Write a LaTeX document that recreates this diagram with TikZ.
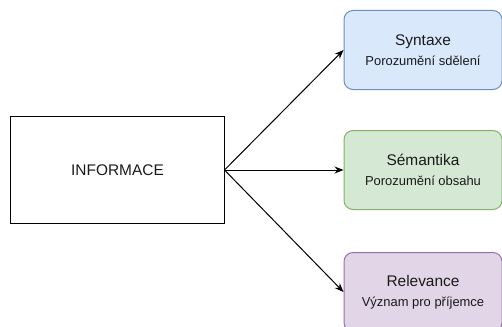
\documentclass[tikz,border=0pt]{standalone}
\usepackage{fontspec}
\setmainfont{Liberation Sans}
\usetikzlibrary{arrows.meta,positioning}
\definecolor{synfill}{HTML}{DAE8FC}
\definecolor{synline}{HTML}{6C8EBF}
\definecolor{semfill}{HTML}{D5E8D4}
\definecolor{semline}{HTML}{82B366}
\definecolor{relfill}{HTML}{E1D5E7}
\definecolor{relline}{HTML}{9673A6}
\definecolor{ink}{HTML}{1A1A1A}
\newcommand{\lvltext}[2]{#1\\[5bp]\fontsize{13}{15}\selectfont #2}
\tikzset{
  level/.style={draw, rectangle, line width=1bp, rounded corners=9bp, minimum width=158bp, minimum height=79bp, align=center, inner sep=0pt, text=ink, font=\fontsize{15.5}{15}\selectfont},
  link/.style={line width=1bp, -{Stealth[length=9bp,width=7bp]}}
}

\begin{document}
\begin{tikzpicture}[x=1bp,y=1bp]
          \useasboundingbox (0,0) rectangle (502,326);
          \draw node[draw, rectangle, line width=1bp, minimum width = 213bp, minimum height = 107bp, inner sep=0pt, text=ink] (info) at (117.5,156) {\fontsize{15.5}{18}\selectfont INFORMACE};
          \draw node[level, fill=semfill, draw=semline, right = 119bp of info] (sem) {\lvltext{Sémantika}{Porozumění obsahu}};
          \draw node[level, fill=synfill, draw=synline, above = 40bp of sem] (syn) {\lvltext{Syntaxe}{Porozumění sdělení}};
          \draw node[level, fill=relfill, draw=relline, below = 40bp of sem, yshift=-2bp] (rel) {\lvltext{Relevance}{Význam pro příjemce}};

          \draw (info.east) edge[link] (syn.west);
          \draw (info.east) edge[link] (sem.west);
          \draw (info.east) edge[link] (rel.west);
      \end{tikzpicture}
\end{document}
